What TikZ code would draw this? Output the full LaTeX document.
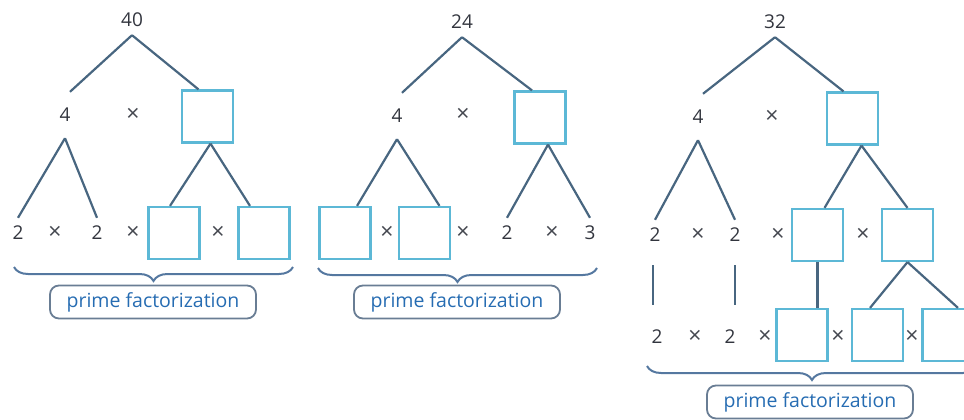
\documentclass[tikz,border=0pt]{standalone}
\usepackage{fontspec}
\setmainfont{Open Sans}
\usetikzlibrary{decorations.pathreplacing}
\definecolor{boxcyan}{RGB}{92,184,214}
\definecolor{branchcol}{RGB}{72,102,128}
\definecolor{digitcol}{RGB}{50,53,62}
\definecolor{labelblue}{RGB}{38,108,178}
\definecolor{framecol}{RGB}{105,125,148}
\definecolor{bracecol}{RGB}{85,120,160}
\begin{document}
\begin{tikzpicture}[x=1pt,y=-1pt,
  num/.style={font=\fontsize{19}{20}\selectfont, text=digitcol, inner sep=0pt, minimum height=30pt},
  op/.style={font=\fontsize{23}{24}\selectfont, text=digitcol!90, inner sep=0pt},
  fillbox/.style={draw=boxcyan, line width=2.2pt, minimum width=51pt, minimum height=52pt, inner sep=0pt},
  branch/.style={draw=branchcol, line width=2.2pt},
  bracket/.style={draw=bracecol, line width=2pt, decorate, decoration={brace, mirror, amplitude=14pt}},
  pflabel/.style={draw=framecol, line width=1.8pt, rounded corners=9pt, minimum width=206pt, minimum height=33pt, inner sep=0pt, text=labelblue, font=\fontsize{19.5}{21}\selectfont}
]
\clip (0,0) rectangle (964,420);

% ---------- tree for 40 ----------
\node[num] (a40) at (132,20) {40};
\node[num, minimum height=46pt] (a4) at (65,115) {4};
\node[op] (ax1) at (133,115) {×};
\node[fillbox] (ab1) at (207.5,116.5) {};
\draw[branch] (a40.south) -- ([xshift=5pt]a4.north);
\draw[branch] (a40.south) -- ([xshift=-9pt]ab1.north);

\node[num] (a2a) at (18,233) {2};
\node[op] (ax2) at (55,233) {×};
\node[num] (a2b) at (97,233) {2};
\node[op] (ax3) at (133,233) {×};
\node[fillbox] (ab2) at (174,233) {};
\node[op] (ax4) at (218,233) {×};
\node[fillbox] (ab3) at (264,233) {};
\draw[branch] (a4.south) -- (a2a.north);
\draw[branch] (a4.south) -- (a2b.north);
\draw[branch] ([xshift=3pt]ab1.south) -- ([xshift=-4pt]ab2.north);
\draw[branch] ([xshift=3pt]ab1.south) -- ([xshift=-14pt]ab3.north);

\coordinate (abl) at (14,267);
\coordinate (abr) at (293,267);
\draw[bracket] (abl) -- (abr);
\node[pflabel] (al) at (153,302) {prime factorization};

% ---------- tree for 24 ----------
\node[num] (b24) at (462,22) {24};
\node[num, minimum height=46pt] (b4) at (397,116) {4};
\node[op] (bx1) at (463,115) {×};
\node[fillbox] (bb1) at (540,117.5) {};
\draw[branch] (b24.south) -- ([xshift=5pt]b4.north);
\draw[branch] (b24.south) -- ([xshift=-8pt]bb1.north);

\node[fillbox] (bb2) at (345,233) {};
\node[op] (bx2) at (387,233) {×};
\node[fillbox] (bb3) at (424.5,233) {};
\node[op] (bx3) at (463,233) {×};
\node[num] (b2) at (507,233) {2};
\node[op] (bx4) at (552,233) {×};
\node[num] (b3) at (590,233) {3};
\draw[branch] (b4.south) -- ([xshift=12pt]bb2.north);
\draw[branch] (b4.south) -- ([xshift=15pt]bb3.north);
\draw[branch] ([xshift=8pt]bb1.south) -- (b2.north);
\draw[branch] ([xshift=8pt]bb1.south) -- (b3.north);

\coordinate (bbl) at (318,268);
\coordinate (bbr) at (597,268);
\draw[bracket] (bbl) -- (bbr);
\node[pflabel] (bl) at (457,302) {prime factorization};

% ---------- tree for 32 ----------
\node[num] (c32) at (775,22) {32};
\node[num, minimum height=46pt] (c4) at (698,117) {4};
\node[op] (cx1) at (772,117) {×};
\node[fillbox] (cb1) at (852.5,118.5) {};
\draw[branch] (c32.south) -- ([xshift=5pt]c4.north);
\draw[branch] (c32.south) -- ([xshift=-9pt]cb1.north);

\node[num] (c2a) at (655,235) {2};
\node[op] (cx2) at (698,235) {×};
\node[num] (c2b) at (735,235) {2};
\node[op] (cx3) at (778,235) {×};
\node[fillbox] (cb2) at (817.5,235) {};
\node[op] (cx4) at (863,235) {×};
\node[fillbox] (cb3) at (907.5,235) {};
\draw[branch] (c4.south) -- (c2a.north);
\draw[branch] (c4.south) -- (c2b.north);
\draw[branch] ([xshift=9pt]cb1.south) -- ([xshift=7pt]cb2.north);
\draw[branch] ([xshift=9pt]cb1.south) -- (cb3.north);

\node[num] (c2c) at (657,337) {2};
\node[op] (cx5) at (695,337) {×};
\node[num] (c2d) at (730,337) {2};
\node[op] (cx6) at (765,337) {×};
\node[fillbox] (cb4) at (802,335) {};
\node[op] (cx7) at (838,337) {×};
\node[fillbox] (cb5) at (877.5,335) {};
\node[op] (cx8) at (912,337) {×};
\node[fillbox] (cb6) at (948,335) {};
\draw[branch, line width=1.8pt] ([xshift=-2pt,yshift=-15pt]c2a.south) -- ([xshift=-4pt,yshift=17pt]c2c.north);
\draw[branch, line width=1.8pt] ([yshift=-15pt]c2b.south) -- ([xshift=5pt,yshift=17pt]c2d.north);
\draw[branch] (cb2.south) -- ([xshift=15.5pt]cb4.north);
\draw[branch] (cb3.south) -- ([xshift=-7.5pt]cb5.north);
\draw[branch] (cb3.south) -- ([xshift=10pt]cb6.north);

\coordinate (cbl) at (647,366);
\coordinate (cbr) at (977,366);
\draw[bracket] (cbl) -- (cbr);
\node[pflabel] (cl) at (810,402) {prime factorization};
\end{tikzpicture}
\end{document}
